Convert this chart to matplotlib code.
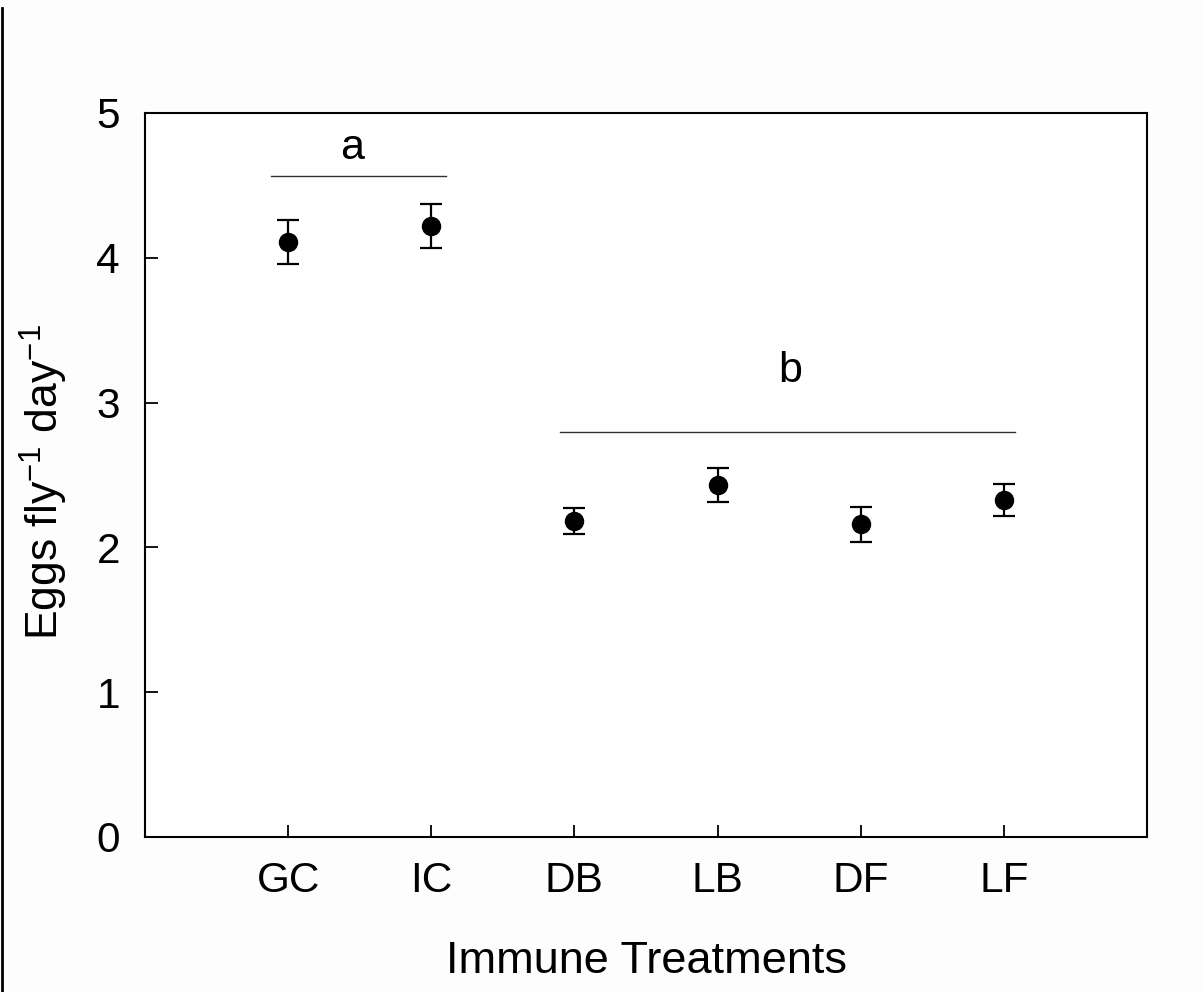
import matplotlib
matplotlib.use("Agg")
import matplotlib.pyplot as plt
from matplotlib.lines import Line2D

plt.rcParams['font.family'] = ['Liberation Sans', 'DejaVu Sans']
plt.rcParams['mathtext.fontset'] = 'custom'
plt.rcParams['mathtext.rm'] = 'Liberation Sans'
plt.rcParams['mathtext.it'] = 'Liberation Sans'

categories = ["GC", "IC", "DB", "LB", "DF", "LF"]
means = [4.11, 4.22, 2.18, 2.43, 2.16, 2.33]
errors = [0.15, 0.155, 0.09, 0.115, 0.12, 0.11]
group_labels = ["a", "b"]
group_spans = [(0.88, 2.1), (2.9, 6.08)]
group_line_y = [4.565, 2.80]
group_text_pos = [(1.45, 4.76), (4.51, 3.22)]

fig = plt.figure(figsize=(12.03, 9.92), dpi=100)
fig.patch.set_facecolor('#fdfdfd')
ax = fig.add_axes([145/1203, 1 - 837/992, (1147-145)/1203, (837-113)/992])

x = list(range(1, len(categories) + 1))
ax.errorbar(x, means, yerr=errors, fmt='o', color='black', markersize=13,
            capsize=8, elinewidth=1.6, capthick=1.6, ecolor='black')

for lab, (x0, x1), yl, (tx, ty) in zip(group_labels, group_spans, group_line_y, group_text_pos):
    ax.plot([x0, x1], [yl, yl], color='#333333', lw=1.0)
    ax.text(tx, ty, lab, ha='center', va='center', fontsize=31)

ax.set_xlim(0, 7)
ax.set_ylim(0, 5)
ax.set_xticks(x)
ax.set_xticklabels(categories)
ax.set_yticks([0, 1, 2, 3, 4, 5])
ax.tick_params(axis='both', direction='in', length=9, width=1.3, labelsize=30.5)
ax.tick_params(axis='y', pad=18)
ax.tick_params(axis='x', pad=17)
ax.tick_params(top=False, right=False)
for s in ax.spines.values():
    s.set_linewidth(1.5)
ax.set_xlabel('Immune Treatments', fontsize=32.5)
ax.xaxis.set_label_coords(0.5, -0.143)
ax.set_ylabel('Eggs fly$^{-1}$ day$^{-1}$', fontsize=32)
ax.yaxis.set_label_coords(-0.075, 0.49)
ax.set_facecolor('white')

fig.add_artist(Line2D([1.5/1203, 1.5/1203], [0, 1 - 8/992], color='black', lw=2))

fig.savefig('out.png', dpi=100, facecolor=fig.get_facecolor())
